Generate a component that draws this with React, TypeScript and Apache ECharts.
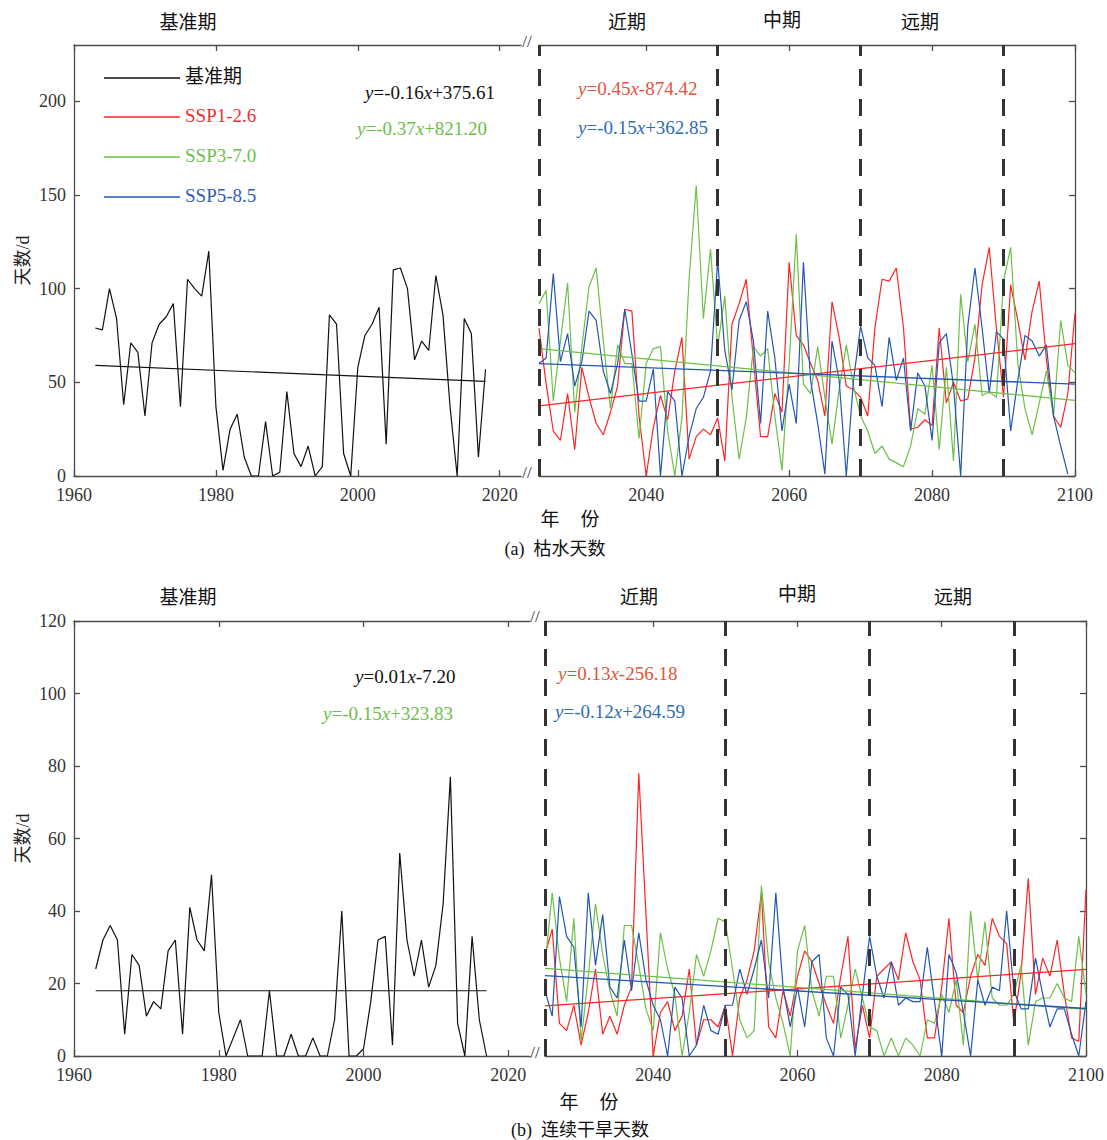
import React, { useEffect, useRef } from "react";
import * as echarts from "echarts";

const FONT = '"Liberation Serif", "Times New Roman", "Noto Sans CJK SC", serif';

// ---------- data ----------
const baseStartA = 1963;
const baseA = [79, 78, 100, 84, 38, 71, 66, 32, 71, 81, 85, 92, 37, 105, 100, 96, 120, 37, 3, 25, 33, 10, 0, 0, 29, 0, 2, 45, 12, 5, 16, 0, 5, 86, 81, 12, 0, 58, 75, 81, 90, 17, 110, 111, 100, 62, 72, 67, 107, 86, 37, 0, 84, 76, 10, 57];
const baseStartB = 1963;
const baseB = [24, 32, 36, 32, 6, 28, 25, 11, 15, 13, 29, 32, 6, 41, 32, 29, 50, 12, 0, 5, 10, 0, 0, 0, 18, 0, 0, 6, 0, 0, 5, 0, 0, 10, 40, 0, 0, 2, 15, 32, 33, 3, 56, 32, 22, 32, 19, 25, 42, 77, 9, 0, 33, 10, 0];

const futStart = 2025;
const redA = [79, 49, 24, 19, 44, 14, 58, 42, 28, 22, 34, 48, 89, 88, 32, 0, 26, 43, 30, 56, 74, 9, 21, 25, 22, 31, 8, 81, 92, 105, 62, 21, 21, 44, 34, 114, 75, 70, 60, 51, 32, 93, 74, 48, 46, 42, 32, 79, 105, 104, 111, 79, 25, 26, 30, 27, 79, 39, 50, 40, 41, 63, 102, 122, 79, 42, 102, 83, 62, 88, 104, 62, 32, 26, 44, 87];
const greenA = [92, 99, 40, 72, 103, 34, 69, 101, 111, 72, 36, 70, 60, 60, 20, 60, 68, 69, 24, 0, 31, 105, 155, 84, 121, 69, 96, 42, 9, 31, 69, 64, 68, 32, 3, 60, 129, 49, 44, 69, 42, 17, 46, 70, 48, 32, 24, 12, 16, 9, 7, 5, 16, 36, 33, 59, 14, 58, 8, 97, 61, 81, 43, 45, 42, 104, 122, 60, 36, 22, 39, 56, 32, 83, 59, 55];
const blueA = [60, 63, 108, 61, 76, 48, 61, 88, 83, 56, 44, 60, 89, 65, 40, 40, 57, 0, 45, 40, 0, 21, 36, 42, 56, 115, 67, 46, 83, 93, 72, 28, 88, 63, 24, 49, 28, 114, 51, 28, 1, 72, 51, 0, 51, 80, 63, 59, 37, 74, 51, 63, 24, 55, 48, 19, 71, 76, 48, 0, 80, 111, 79, 44, 77, 73, 24, 51, 75, 72, 64, 70, 32, 16, 1];

const redB = [28, 35, 9, 7, 14, 3, 12, 24, 6, 11, 6, 14, 19, 78, 39, 0, 12, 15, 7, 11, 24, 3, 10, 10, 8, 14, 0, 16, 21, 29, 45, 8, 5, 18, 11, 22, 29, 26, 20, 14, 9, 22, 33, 2, 14, 5, 22, 24, 26, 21, 34, 26, 21, 5, 5, 19, 38, 14, 12, 22, 28, 25, 38, 33, 31, 9, 23, 49, 17, 27, 22, 32, 17, 5, 4, 46];
const greenB = [25, 45, 27, 15, 38, 4, 22, 42, 28, 18, 11, 36, 36, 25, 13, 7, 34, 24, 17, 0, 12, 28, 22, 29, 38, 37, 24, 10, 5, 7, 47, 26, 16, 9, 0, 29, 36, 18, 11, 22, 22, 5, 14, 24, 16, 8, 7, 0, 5, 0, 5, 3, 0, 10, 9, 17, 12, 21, 3, 40, 21, 37, 16, 14, 14, 17, 25, 3, 15, 16, 16, 20, 16, 15, 33, 17];
const blueB = [18, 11, 44, 33, 30, 8, 45, 25, 39, 19, 16, 32, 18, 34, 21, 14, 10, 0, 19, 16, 0, 3, 14, 7, 6, 14, 14, 24, 17, 24, 32, 16, 45, 19, 8, 19, 8, 26, 28, 5, 0, 19, 17, 0, 17, 33, 22, 16, 26, 14, 16, 15, 15, 30, 15, 0, 28, 23, 12, 0, 21, 14, 19, 18, 40, 18, 13, 13, 27, 17, 8, 13, 13, 6, 0, 15];

const trendBaseA = [[1963, 59], [2018, 50.5]];
const trendRedA = [[2025, 37.4], [2100, 70.6]];
const trendGreenA = [[2025, 68], [2100, 40.4]];
const trendBlueA = [[2025, 60], [2100, 49]];
const trendBaseB = [[1963, 18], [2017, 18]];
const trendRedB = [[2025, 13.8], [2100, 23.9]];
const trendGreenB = [[2025, 24.2], [2100, 12.9]];
const trendBlueB = [[2025, 22.2], [2100, 13.1]];

const periodLines = [2025, 2050, 2070, 2090];
const xTicksBase = [1960, 1980, 2000, 2020];
const xTicksFut = [2040, 2060, 2080, 2100];
const yTicksA = [0, 50, 100, 150, 200];
const yTicksB = [0, 20, 40, 60, 80, 100, 120];

const seriesNames = ["基准期", "SSP1-2.6", "SSP3-7.0", "SSP5-8.5"];
const eqA = { base: ["-0.16", "+375.61"], green: ["-0.37", "+821.20"], red: ["0.45", "-874.42"], blue: ["-0.15", "+362.85"] };
const eqB = { base: ["0.01", "-7.20"], green: ["-0.15", "+323.83"], red: ["0.13", "-256.18"], blue: ["-0.12", "+264.59"] };

// ---------- style ----------
const C = { base: "#111111", red: "#FF2424", green: "#6CBF47", blue: "#2356B4" };
const EQC = { base: "#111111", red: "#E0553A", green: "#6DBE4B", blue: "#2E6DB4" };
const LEGC = { base: "#111111", red: "#F03030", green: "#6DBE4B", blue: "#2F5BB0" };
const AX = "#4d4d4d";

const toPairs = (start: number, vals: number[]) => vals.map((v, i) => [start + i, v]);
const plain = (v: number) => String(v);

function xAxis(gridIndex: number, position: string, min: number, max: number, ticks: number[], showLabel: boolean) {
  return {
    type: "value",
    gridIndex,
    position,
    min,
    max,
    splitLine: { show: false },
    axisLine: { show: true, onZero: false, lineStyle: { color: AX, width: 1.3 } },
    axisTick: { show: true, inside: true, length: 6, customValues: ticks, lineStyle: { color: AX, width: 1.3 } },
    axisLabel: { show: showLabel, customValues: ticks, formatter: plain, fontFamily: FONT, fontSize: 18, color: "#333", margin: 10 },
  };
}
function yAxis(gridIndex: number, position: string, max: number, ticks: number[], showLabel: boolean) {
  return {
    type: "value",
    gridIndex,
    position,
    min: 0,
    max,
    splitLine: { show: false },
    axisLine: { show: true, onZero: false, lineStyle: { color: AX, width: 1.3 } },
    axisTick: { show: true, inside: true, length: 6, customValues: ticks, lineStyle: { color: AX, width: 1.3 } },
    axisLabel: { show: showLabel, customValues: ticks, formatter: plain, fontFamily: FONT, fontSize: 18, color: "#333", margin: 8 },
    name: showLabel ? "天数/d" : "",
    nameLocation: "middle",
    nameGap: 42,
    nameRotate: 90,
    nameTextStyle: { fontFamily: FONT, fontSize: 18, color: "#222" },
  };
}
function line(name: string, data: number[][], color: string, xi: number, yi: number, width = 1.2, z = 2, extra: any = {}) {
  return {
    type: "line",
    name,
    data,
    xAxisIndex: xi,
    yAxisIndex: yi,
    symbol: "none",
    smooth: false,
    lineStyle: { color, width },
    itemStyle: { color },
    z,
    silent: true,
    ...extra,
  };
}
const dashMark = {
  symbol: ["none", "none"],
  silent: true,
  label: { show: false },
  lineStyle: { type: [17, 13], width: 3, color: "#333333" },
  data: periodLines.map((v) => ({ xAxis: v })),
};

function txt(x: number, y: number, text: string, fill = "#111", size = 19, align = "center") {
  return { type: "text", x, y, silent: true, style: { text, fill, fontFamily: FONT, fontSize: size, textAlign: align, textVerticalAlign: "middle" } };
}
function eq(x: number, y: number, parts: string[], color: string) {
  const tok = { fontFamily: FONT, fontSize: 19, fill: color, color };
  return {
    type: "text",
    x,
    y,
    silent: true,
    style: {
      text: `{i|y}{n|=${parts[0]}}{i|x}{n|${parts[1]}}`,
      fill: color,
      fontFamily: FONT,
      fontSize: 19,
      textAlign: "left",
      textVerticalAlign: "middle",
      rich: { i: { ...tok, fontStyle: "italic" }, n: { ...tok } },
    },
  };
}
function legendItem(y: number, label: string, lineColor: string, textColor: string) {
  return [
    { type: "line", silent: true, shape: { x1: 104, y1: y, x2: 180, y2: y }, style: { stroke: lineColor, lineWidth: 1.3 } },
    txt(185, y - 2, label, textColor, 19, "left"),
  ];
}

export default function App() {
  const ref = useRef<HTMLDivElement>(null);
  useEffect(() => {
    if (!ref.current) return;
    const chart = echarts.init(ref.current, null, { renderer: "svg" });
    const option: any = {
      animation: false,
      backgroundColor: "#ffffff",
      grid: [
        { left: 74, top: 45, width: 447, height: 431 },
        { left: 539, top: 45, width: 536, height: 431 },
        { left: 74, top: 621, width: 456, height: 435 },
        { left: 545, top: 621, width: 541, height: 435 },
      ],
      xAxis: [
        xAxis(0, "bottom", 1960, 2023, xTicksBase, true),
        xAxis(0, "top", 1960, 2023, xTicksBase, false),
        xAxis(1, "bottom", 2025, 2100, xTicksFut, true),
        xAxis(1, "top", 2025, 2100, xTicksFut, false),
        xAxis(2, "bottom", 1960, 2023, xTicksBase, true),
        xAxis(2, "top", 1960, 2023, xTicksBase, false),
        xAxis(3, "bottom", 2025, 2100, xTicksFut, true),
        xAxis(3, "top", 2025, 2100, xTicksFut, false),
      ],
      yAxis: [
        yAxis(0, "left", 230, yTicksA, true),
        yAxis(1, "right", 230, yTicksA, false),
        yAxis(2, "left", 120, yTicksB, true),
        yAxis(3, "right", 120, yTicksB, false),
      ],
      series: [
        line(seriesNames[0], toPairs(baseStartA, baseA), C.base, 0, 0),
        line(seriesNames[0], trendBaseA, C.base, 0, 0, 1.2, 3),
        line(seriesNames[1], toPairs(futStart, redA), C.red, 2, 1),
        line(seriesNames[2], toPairs(futStart, greenA), C.green, 2, 1),
        line(seriesNames[3], toPairs(futStart, blueA), C.blue, 2, 1),
        line(seriesNames[1], trendRedA, C.red, 2, 1, 1.3, 4, { markLine: dashMark }),
        line(seriesNames[2], trendGreenA, C.green, 2, 1, 1.3, 4),
        line(seriesNames[3], trendBlueA, C.blue, 2, 1, 1.3, 4),
        line(seriesNames[0], toPairs(baseStartB, baseB), C.base, 4, 2),
        line(seriesNames[0], trendBaseB, C.base, 4, 2, 1.2, 3),
        line(seriesNames[1], toPairs(futStart, redB), C.red, 6, 3),
        line(seriesNames[2], toPairs(futStart, greenB), C.green, 6, 3),
        line(seriesNames[3], toPairs(futStart, blueB), C.blue, 6, 3),
        line(seriesNames[1], trendRedB, C.red, 6, 3, 1.3, 4, { markLine: dashMark }),
        line(seriesNames[2], trendGreenB, C.green, 6, 3, 1.3, 4),
        line(seriesNames[3], trendBlueB, C.blue, 6, 3, 1.3, 4),
      ],
      graphic: [
        // panel (a)
        txt(188, 22, "基准期"),
        txt(627, 22, "近期"),
        txt(782, 20, "中期"),
        txt(920, 22, "远期"),
        txt(527, 41, "//", "#333", 17),
        txt(527, 472, "//", "#333", 17),
        ...legendItem(78, seriesNames[0], C.base, LEGC.base),
        ...legendItem(117, seriesNames[1], C.red, LEGC.red),
        ...legendItem(157, seriesNames[2], C.green, LEGC.green),
        ...legendItem(197, seriesNames[3], C.blue, LEGC.blue),
        eq(365, 92, eqA.base, EQC.base),
        eq(357, 128, eqA.green, EQC.green),
        eq(578, 88, eqA.red, EQC.red),
        eq(578, 127, eqA.blue, EQC.blue),
        txt(550, 519, "年", "#111", 19),
        txt(590, 519, "份", "#111", 19),
        txt(555, 549, "(a)  枯水天数", "#111", 18),
        // panel (b)
        txt(188, 597, "基准期"),
        txt(639, 597, "近期"),
        txt(797, 594, "中期"),
        txt(953, 597, "远期"),
        txt(535, 616, "//", "#333", 17),
        txt(535, 1052, "//", "#333", 17),
        eq(355, 676, eqB.base, EQC.base),
        eq(323, 713, eqB.green, EQC.green),
        eq(558, 673, eqB.red, EQC.red),
        eq(555, 711, eqB.blue, EQC.blue),
        txt(569, 1102, "年", "#111", 19),
        txt(609, 1102, "份", "#111", 19),
        txt(580, 1130, "(b)  连续干旱天数", "#111", 18),
      ],
    };
    chart.setOption(option);
    return () => chart.dispose();
  }, []);
  return (
    <div
      ref={ref}
      style={{ position: "absolute", left: 0, top: 0, width: 1107, height: 1140, background: "#fff" }}
    />
  );
}
